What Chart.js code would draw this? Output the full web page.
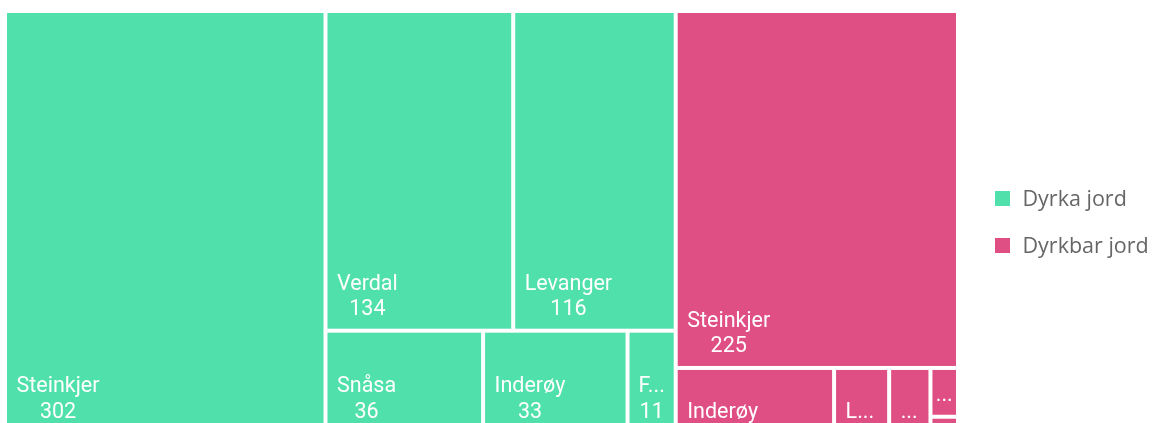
<!DOCTYPE html>
<html lang="no">
<head>
<meta charset="utf-8">
<title>Dyrka og dyrkbar jord</title>
<script src="https://cdn.jsdelivr.net/npm/chart.js@4"></script>
<style>
  html, body { margin: 0; padding: 0; background: #fff; overflow: hidden; }
  #wrap { position: relative; width: 1154px; height: 444px; }
</style>
</head>
<body>
<div id="wrap"><canvas id="chart"></canvas></div>
<script>
// Kommuner og areal (dekar, i tusen)
const municipalities = ['Steinkjer', 'Verdal', 'Levanger', 'Snåsa', 'Inderøy', 'Frosta'];
const dyrkaJord      = [302, 134, 116, 36, 33, 11];
const dyrkbarJord    = [225, 6, 8, 3, 23, 1];
const seriesNames    = ['Dyrka jord', 'Dyrkbar jord'];
const seriesColors   = ['#50e0ab', '#e04f83'];

// Squarified treemap layout: items [{v, ...}] placed inside rect (x, y, w, h)
function squarify(items, x, y, w, h) {
  const out = [];
  const sorted = items.filter(it => it.v > 0).sort((a, b) => b.v - a.v);
  const total = sorted.reduce((s, it) => s + it.v, 0);
  if (!total || w <= 0 || h <= 0) return out;
  const k = (w * h) / total;
  const worst = (row, side) => {
    const s = row.reduce((a, it) => a + it.v, 0) * k;
    const mx = Math.max(...row.map(it => it.v)) * k;
    const mn = Math.min(...row.map(it => it.v)) * k;
    return Math.max((side * side * mx) / (s * s), (s * s) / (side * side * mn));
  };
  let rest = sorted;
  while (rest.length) {
    const side = Math.min(w, h);
    let row = [rest[0]];
    for (let i = 1; i < rest.length; i++) {
      const cand = row.concat(rest[i]);
      if (worst(cand, side) <= worst(row, side)) row = cand; else break;
    }
    rest = rest.slice(row.length);
    const area = row.reduce((a, it) => a + it.v, 0) * k;
    if (w >= h) {
      const cw = area / h;
      let cy = y;
      row.forEach(it => { const ch = it.v * k / cw; out.push({ item: it, x, y: cy, w: cw, h: ch }); cy += ch; });
      x += cw; w -= cw;
    } else {
      const rh = area / w;
      let cx = x;
      row.forEach(it => { const cw = it.v * k / rh; out.push({ item: it, x: cx, y, w: cw, h: rh }); cx += cw; });
      y += rh; h -= rh;
    }
  }
  return out;
}

// One rectangle of the treemap, with its name / value label
class TreemapCell extends Chart.Element {
  static id = 'treemapCell';
  static defaults = {};

  fitText(ctx, text, avail) {
    const vis = t => { const m = ctx.measureText(t); return m.actualBoundingBoxLeft + m.actualBoundingBoxRight; };
    if (vis(text) <= avail) return text;
    for (let n = text.length - 1; n > 0; n--) {
      const t = text.slice(0, n) + '...';
      if (vis(t) <= avail) return t;
    }
    return '...';
  }

  draw(ctx) {
    const o = this.style;
    if (!o) return;
    const s = o.spacing;
    const x = this.x + s, y = this.y + s, w = this.width - 2 * s, h = this.height - 2 * s;
    if (!(w > 0 && h > 0)) return;
    ctx.save();
    ctx.fillStyle = this.color;
    ctx.fillRect(x, y, w, h);

    ctx.beginPath();
    ctx.rect(x, y, w, h);
    ctx.clip();
    ctx.font = `${o.labelFont.size}px ${o.labelFont.family}`;
    ctx.fillStyle = o.labelColor;
    ctx.textAlign = 'center';
    ctx.textBaseline = 'alphabetic';

    let lines = [];
    const name = this.fitText(ctx, String(this.label), w - o.fitMargin);
    if (h >= o.twoLineHeight) lines = [name, String(this.value)];
    else if (h >= o.oneLineHeight) lines = [name];
    if (lines.length) {
      const blockW = Math.max(...lines.map(t => ctx.measureText(t).width));
      const pad = o.labelPadding;
      const xc = blockW <= w - 2 * pad ? x + pad + blockW / 2 : x + w / 2;
      let base = y + h - o.labelBottom - (lines.length - 1) * o.lineGap;
      lines.forEach(t => { ctx.fillText(t, xc, base); base += o.lineGap; });
    }
    ctx.restore();
  }
}

// Each dataset is a top-level group; its values are split into cells
class TreemapController extends Chart.DatasetController {
  static id = 'treemap';
  static defaults = { datasetElementType: false, dataElementType: 'treemapCell' };

  parse(start, count) {
    const meta = this._cachedMeta;
    const data = this.getDataset().data;
    for (let i = start; i < start + count; i++) meta._parsed[i] = { v: +data[i] || 0 };
  }

  update(mode) {
    const meta = this._cachedMeta;
    this.updateElements(meta.data, 0, meta.data.length, mode);
  }

  updateElements(elements, start, count) {
    const chart = this.chart;
    const meta = this._cachedMeta;
    const xs = meta.xScale, ys = meta.yScale;
    if (!xs || !ys) return;
    const left = xs.getPixelForValue(xs.min), right = xs.getPixelForValue(xs.max);
    const top = ys.getPixelForValue(ys.max), bottom = ys.getPixelForValue(ys.min);
    if (![left, right, top, bottom].every(Number.isFinite)) return;

    const groups = chart.data.datasets
      .map((d, i) => ({ i, v: d.data.reduce((a, b) => a + b, 0) }))
      .filter(g => chart.isDatasetVisible(g.i));
    const groupRect = squarify(groups, left, top, right - left, bottom - top)
      .find(r => r.item.i === this.index);

    const dataset = this.getDataset();
    const items = meta._parsed.map((p, j) => ({ j, v: p.v }));
    const cells = groupRect ? squarify(items, groupRect.x, groupRect.y, groupRect.w, groupRect.h) : [];
    const byIndex = {};
    cells.forEach(c => { byIndex[c.item.j] = c; });

    const opts = this.options;
    const style = {
      spacing: opts.spacing,
      labelPadding: opts.labelPadding,
      labelBottom: opts.labelBottom,
      lineGap: opts.lineGap,
      fitMargin: opts.fitMargin,
      twoLineHeight: opts.twoLineHeight,
      oneLineHeight: opts.oneLineHeight,
      labelColor: opts.labelColor,
      labelFont: { size: opts.labelFont.size, family: opts.labelFont.family }
    };
    const labels = chart.data.labels;
    for (let i = start; i < start + count; i++) {
      const c = byIndex[i];
      Object.assign(elements[i], {
        x: c ? c.x : 0, y: c ? c.y : 0,
        width: c ? c.w : 0, height: c ? c.h : 0,
        label: labels[i], value: dataset.data[i],
        color: dataset.backgroundColor, style
      });
    }
  }
}

// Legend at the right side, vertically centred on the plot
const sideLegend = {
  id: 'sideLegend',
  afterDraw(chart, args, o) {
    const ctx = chart.ctx;
    const area = chart.chartArea;
    const sets = chart.data.datasets;
    const cy0 = (area.top + area.bottom) / 2 - (sets.length - 1) * o.rowHeight / 2;
    const x = area.right + o.offset;
    ctx.save();
    ctx.font = `${o.font.size}px ${o.font.family}`;
    ctx.textAlign = 'left';
    ctx.textBaseline = 'alphabetic';
    sets.forEach((d, i) => {
      const cy = cy0 + i * o.rowHeight;
      ctx.fillStyle = d.backgroundColor;
      ctx.fillRect(x, cy - o.boxSize / 2, o.boxSize, o.boxSize);
      ctx.fillStyle = o.color;
      ctx.fillText(d.label, x + o.boxSize + o.gap, cy + o.baselineShift);
    });
    ctx.restore();
  }
};

Chart.register(TreemapController, TreemapCell);

new Chart(document.getElementById('chart'), {
  type: 'treemap',
  data: {
    labels: municipalities,
    datasets: [
      { label: seriesNames[0], data: dyrkaJord, backgroundColor: seriesColors[0] },
      { label: seriesNames[1], data: dyrkbarJord, backgroundColor: seriesColors[1] }
    ]
  },
  options: {
    responsive: true,
    maintainAspectRatio: false,
    devicePixelRatio: 1,
    animation: false,
    events: [],
    layout: { padding: { left: 5, top: 11, right: 196, bottom: 11 } },
    scales: {
      x: { type: 'linear', min: 0, max: 1, display: false },
      y: { type: 'linear', min: 0, max: 1, display: false }
    },
    datasets: {
      treemap: {
        spacing: 2,
        labelPadding: 9.5,
        labelBottom: 13.5,
        lineGap: 25.5,
        fitMargin: 16.5,
        twoLineHeight: 66,
        oneLineHeight: 30,
        labelColor: '#ffffff',
        labelFont: { size: 21.5, family: 'Roboto' }
      }
    },
    plugins: {
      legend: { display: false },
      tooltip: { enabled: false },
      sideLegend: {
        offset: 37,
        boxSize: 15,
        gap: 12.5,
        rowHeight: 47,
        baselineShift: 7.6,
        color: '#666666',
        font: { size: 21.5, family: '"Open Sans"' }
      }
    }
  },
  plugins: [sideLegend]
});
</script>
</body>
</html>
